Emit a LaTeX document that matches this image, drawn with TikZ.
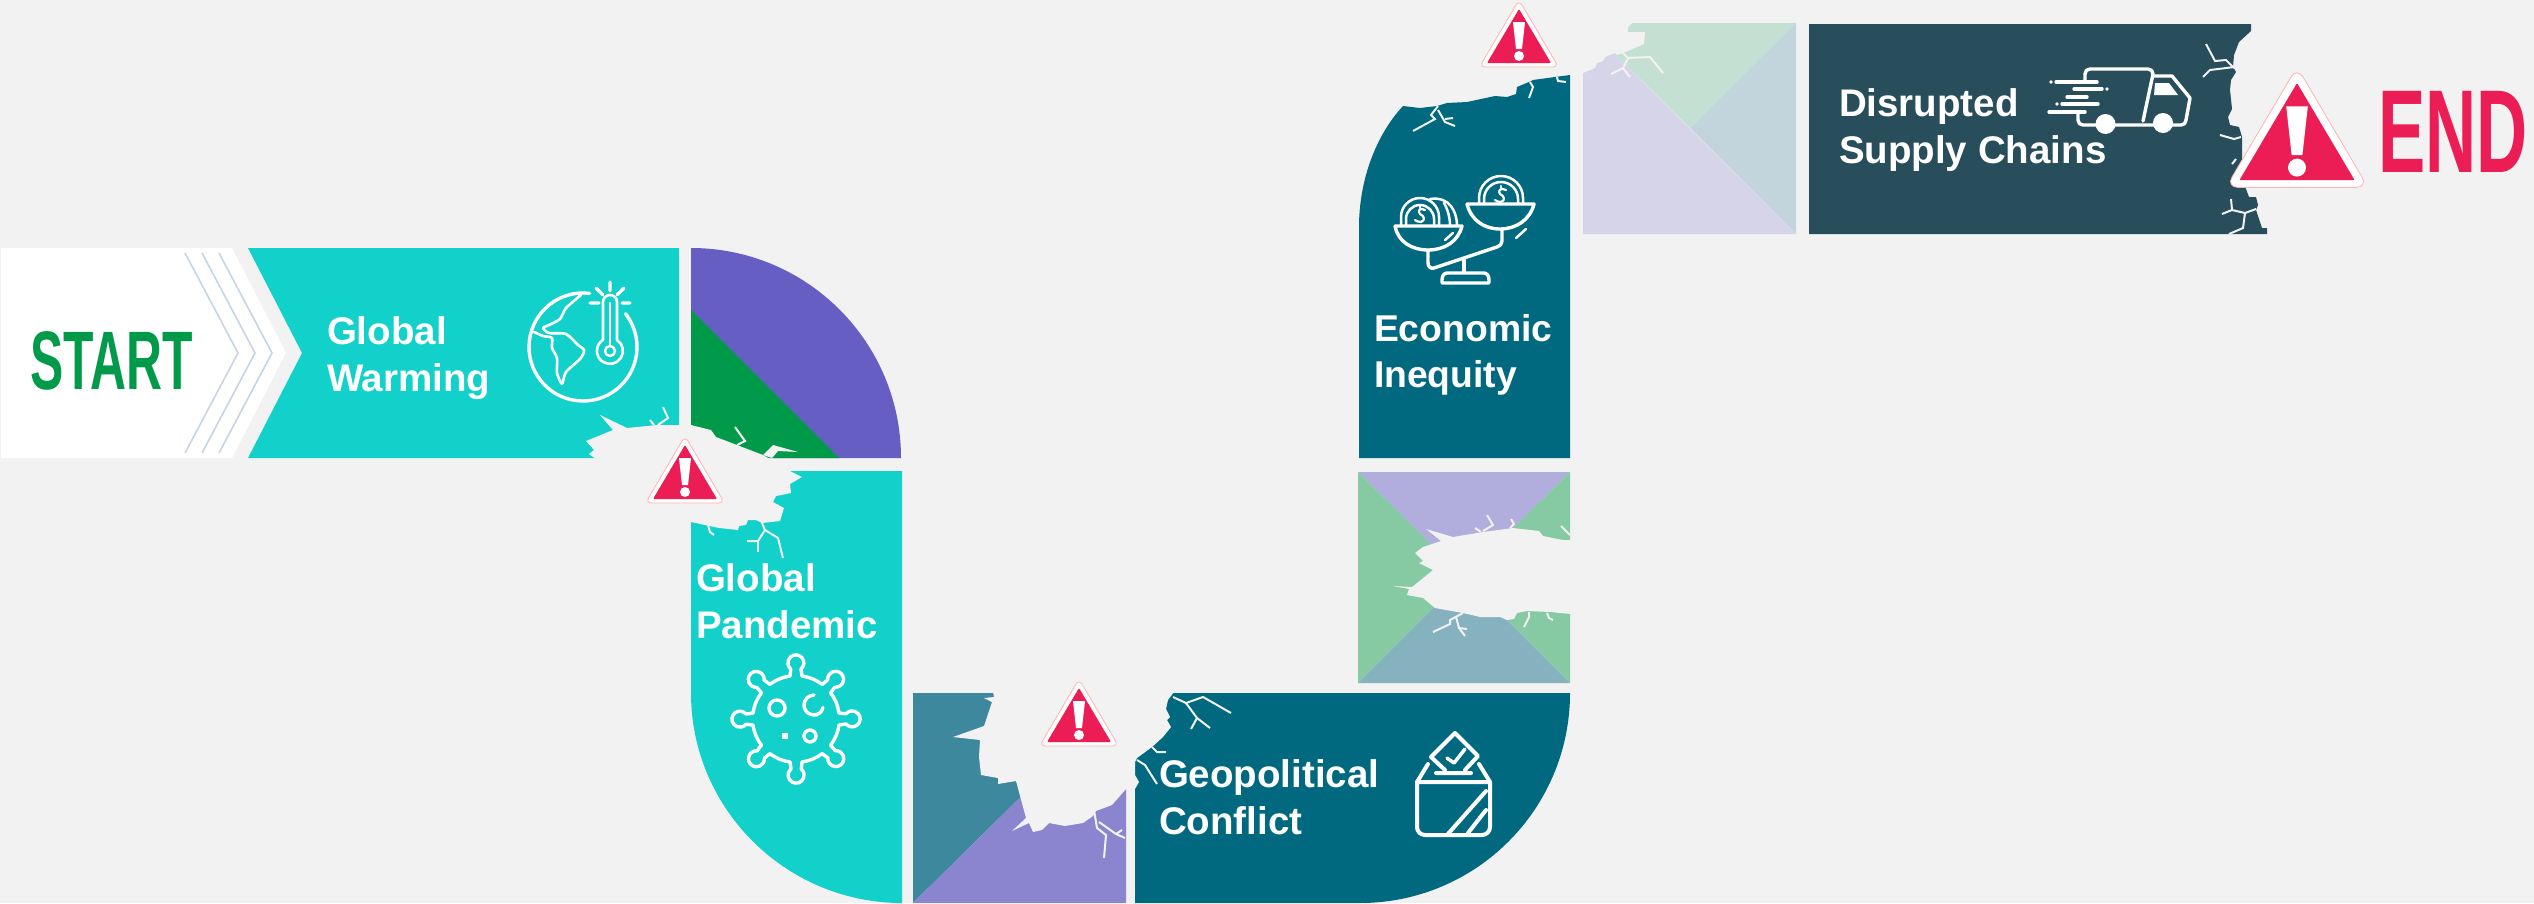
\documentclass[tikz,border=0pt]{standalone}
\usepackage{fontspec}
\setmainfont{Liberation Sans}
\newfontfamily\condfont[FakeStretch=0.6,UprightFont={* Bold}]{Liberation Sans}
\definecolor{bgc}{HTML}{F2F2F2}
\definecolor{tealA}{HTML}{12D0CA}
\definecolor{purA}{HTML}{675EC4}
\definecolor{grnA}{HTML}{009A4A}
\definecolor{tealB}{HTML}{006980}
\definecolor{tealC}{HTML}{3E889E}
\definecolor{purB}{HTML}{8B84CF}
\definecolor{lilC}{HTML}{B1ADDC}
\definecolor{grnC}{HTML}{86CAA3}
\definecolor{bluC}{HTML}{86B1BF}
\definecolor{grnD}{HTML}{C4E0D2}
\definecolor{bluD}{HTML}{C3D5DC}
\definecolor{lilD}{HTML}{D6D4E9}
\definecolor{navy}{HTML}{284D5B}
\definecolor{redA}{HTML}{EC1C54}
\definecolor{chev}{HTML}{C8D4E0}
\tikzset{
  lbl/.style={anchor=base west,inner sep=0pt,outer sep=0pt,text=white,align=left,font=\bfseries\fontsize{38.5}{46.5}\selectfont},
  hole/.style={fill=bgc,draw=none},
  crk/.style={draw=bgc,line width=2pt,line join=miter,line cap=butt},
  ico/.style={draw=white,line width=3.4pt,line cap=round,line join=round},
}
\newcommand{\warnsign}[4]{%
  \begin{scope}[shift={(#1,#2)},scale=#3]
    \fill[white,draw=red!30!white,line width=.8pt,rounded corners=#4] (0,-4)--(39.5,63)--(-39.5,63)--cycle;
    \fill[redA,rounded corners=1pt] (0,5)--(32,59)--(-32,59)--cycle;
    \fill[white] (-6,18)--(6,18)--(3,45)--(-3,45)--cycle;
    \fill[white] (0,52) circle[radius=5];
  \end{scope}}
\begin{document}
\begin{tikzpicture}[x=1pt,y=1pt,yscale=-1]
\useasboundingbox (0,0) rectangle (2534,903);
\fill[bgc] (0,0) rectangle (2534,903);
% start chevron
\fill[white] (1,248)--(232,248)--(286,353)--(232,458)--(1,458)--cycle;
\foreach \dx in {0,17,34}
  \draw[chev,line width=1.6pt] (185+\dx,253)--(238+\dx,353)--(185+\dx,453);
\node[anchor=base west,inner sep=0pt,text=grnA,font=\condfont\fontsize{83}{83}\selectfont] (startlbl) at (30,389) {START};
% panel 1
\fill[tealA] (248,248)--(679,248)--(679,458)--(248,458)--(302,353)--cycle;
\fill[purA] (691,248) .. controls (807,248) and (901,342) .. (901,458) -- (691,458) -- cycle;
\fill[grnA] (691,310)--(839,458)--(691,458)--cycle;
% panel 2
\fill[tealA] (691,471)--(902,471)--(902,903) .. controls (786,903) and (691,809) .. (691,693) -- cycle;
% hole 1
\fill[hole] (596,459)--(589,454)--(594,450)--(586,441)--(613,430)--(600,415)--(627,428)--(657,425)--(691,425)--(711,430)--(716,437)--(737,445)--(763,455)--(770,459)--(790,471)--(802,477)--(790,484)--(791,493)--(776,496)--(773,502)--(784,508)--(780,521)--(762,523)--(756,520)--(748,520)--(746,525)--(739,526)--(738,530)--(719,528)--(691,522)--(685,522)--(685,459)--cycle;
\draw[crk] (658,425)--(668,418)--(663,407);
\draw[crk] (654,425)--(650,420);
\draw[crk] (737,445)--(745,441)--(735,427);
\fill[hole] (763,455)--(773,445)--(798,452)--(778,451)--(772,458)--cycle;
\draw[crk] (762,523)--(765,530)--(778,538)--(783,558);
\draw[crk] (765,530)--(758,541)--(747,541);
\draw[crk] (758,541)--(758,552);
\draw[crk] (708,525)--(710,532)--(714,535);
% panel 3
\fill[tealC] (913,693)--(1126,693)--(913,903)--cycle;
\fill[purB] (1126,693)--(1126,903)--(913,903)--cycle;
% panel 4
\fill[tealB] (1135,693)--(1570,693) .. controls (1570,809) and (1476,903) .. (1360,903) -- (1135,903) -- cycle;
% hole 3
\fill[hole] (993,692)--(994,697)--(984,698)--(992,702)--(984,726)--(953,737)--(980,740)--(979,757)--(981,775)--(998,778)--(998,784)--(1016,781)--(1026,818)--(1012,831)--(1029,823)--(1033,832)--(1042,830)--(1049,823)--(1065,826)--(1083,823)--(1093,816)--(1096,811)--(1112,805)--(1126,789)--(1135,789)--(1139,782)--(1135,775)--(1135,762)--(1137,758)--(1152,747)--(1163,737)--(1171,727)--(1167,720)--(1170,717)--(1166,709)--(1168,700)--(1174,692)--cycle;
\draw[crk] (1173,697)--(1186,703)--(1203,697)--(1231,713);
\draw[crk] (1186,703)--(1197,718)--(1210,728);
\draw[crk] (1197,718)--(1191,729);
\draw[crk] (1152,747)--(1157,752)--(1166,752);
\draw[crk] (1137,760)--(1145,765)--(1157,784);
\draw[crk] (1094,810)--(1097,828)--(1106,835)--(1104,858);
\draw[crk] (1099,822)--(1116,834)--(1125,838);
\draw[crk] (1116,834)--(1122,830);
% panel 5
\fill[lilC] (1358,472)--(1570,472)--(1464,577)--cycle;
\fill[grnC] (1358,472)--(1464,577)--(1358,683)--cycle;
\fill[grnC] (1570,472)--(1570,683)--(1464,577)--cycle;
\fill[bluC] (1358,683)--(1464,577)--(1570,683)--cycle;
\fill[hole] (1571,540)--(1563,540)--(1543,536)--(1539,531)--(1513,528)--(1483,532)--(1453,537)--(1426,529)--(1441,541)--(1423,547)--(1415,553)--(1423,561)--(1419,563)--(1433,570)--(1412,587)--(1393,586)--(1409,589)--(1407,595)--(1423,598)--(1435,608)--(1463,613)--(1480,617)--(1500,617)--(1507,620)--(1514,619)--(1517,613)--(1527,611)--(1550,612)--(1571,614)--cycle;
\draw[crk] (1483,531)--(1493,525)--(1487,515);
\draw[crk] (1475,528)--(1481,532);
\draw[crk] (1510,528)--(1514,524)--(1511,519);
\draw[crk] (1561,526)--(1570,535);
\draw[crk] (1463,613)--(1450,620)--(1450,624)--(1433,632);
\draw[crk] (1456,617)--(1459,628)--(1465,636);
\draw[crk] (1459,628)--(1467,629);
\draw[crk] (1529,612)--(1529,617)--(1524,627);
\draw[crk] (1547,613)--(1549,618)--(1553,620);
% panel 6
\fill[tealB] (1359,458)--(1359,227) .. controls (1359,180) and (1376,135) .. (1403,106) --(1420,108)--(1437,106)--(1447,103)--(1467,102)--(1495,96)--(1507,97)--(1516,94)--(1517,87)--(1529,82)--(1533,80)--(1555,77)--(1570,75)--(1570,458)--cycle;
\draw[crk] (1438,106)--(1431,115)--(1435,119)--(1413,131);
\draw[crk] (1438,110)--(1445,122)--(1455,126);
\draw[crk] (1445,119)--(1453,118);
\draw[crk] (1530,82)--(1533,87)--(1529,98);
\draw[crk] (1557,77)--(1558,81)--(1566,82);
% panel 7
\fill[grnD] (1583,23)--(1796,23)--(1690,128)--cycle;
\fill[bluD] (1796,23)--(1796,234)--(1690,128)--cycle;
\fill[lilD] (1583,23)--(1796,234)--(1583,234)--cycle;
\fill[hole] (1582,22)--(1633,22)--(1628,27)--(1628,32)--(1645,32)--(1644,44)--(1623,53)--(1617,55)--(1615,53)--(1605,57)--(1603,61)--(1597,63)--(1595,68)--(1583,73)--(1582,73)--cycle;
\draw[crk] (1623,53)--(1628,58)--(1650,57)--(1663,73);
\draw[crk] (1628,58)--(1623,68)--(1611,74);
\draw[crk] (1623,68)--(1630,77);
% panel 8
\fill[navy] (1809,24)--(2251,24)--(2251,31)--(2239,42)--(2234,55)--(2233,67)--(2236,72)--(2231,80)--(2230,90)--(2232,109)--(2228,117)--(2230,125)--(2239,127)--(2242,137)--(2242,160)--(2242,180)--(2246,189)--(2249,197)--(2256,197)--(2258,205)--(2256,210)--(2262,228)--(2267,228)--(2267,234)--(1809,234)--cycle;
\draw[crk] (2206,44)--(2215,61)--(2226,60)--(2234,68);
\draw[crk] (2234,67)--(2210,70)--(2203,77);
\draw[crk] (2220,135)--(2234,139)--(2241,137);
\draw[crk] (2232,164)--(2236,159);
\draw[crk] (2256,209)--(2245,213)--(2232,210)--(2231,199);
\draw[crk] (2232,210)--(2222,214);
\draw[crk] (2245,213)--(2243,228)--(2229,234);
% labels
\node[lbl] (warming) at (327,391) {Global\\Warming};
\node[lbl] (pandemic) at (696,638) {Global\\Pandemic};
\node[lbl] (conflict) at (1159,834) {Geopolitical\\Conflict};
\node[lbl,font=\bfseries\fontsize{37.3}{46}\selectfont] (inequity) at (1374,387) {Economic\\Inequity};
\node[lbl] (chains) at (1839,163) {Disrupted\\Supply Chains};
\node[anchor=base west,inner sep=0pt,text=redA,font=\condfont\fontsize{118}{118}\selectfont] (endlbl) at (2378,172) {END};
% globe icon
\draw[ico] (583,347) ++(-83:54) arc[start angle=-83,end angle=-398,radius=54];
\draw[ico,line width=2.6pt] plot[smooth,tension=.4] coordinates {(581,295)(566,308)(560,319)(549,325)(543,328)(549,333)(566,334)(578,345)(584,350)(581,358)(566,372)(562,384)(557,373)(557,358)(552,348)(552,338)(543,336)(534,332)};
\draw[ico,line width=2.6pt] (603,340)--(603,302) arc[start angle=180,end angle=360,radius=7] --(617,340) arc[start angle=-57,end angle=237,radius=13];
\draw[ico,line width=2.4pt] (610,303)--(610,345);
\draw[ico,line width=2.4pt] (610,351) circle[radius=5];
\draw[ico] (610,282)--(610,291) (596,288)--(603,295) (624,288)--(617,295) (590,303)--(599,303) (622,303)--(630,303);
% virus icon
\foreach \a in {0,45,...,315}{
  \begin{scope}[shift={(796,719)},rotate=\a]
    \draw[ico] (43,6)--(50,5) arc[start angle=140,end angle=-140,radius=8] --(43,-6);
    \draw[ico] (43,6) arc[start angle=8,end angle=37,radius=43.4];
  \end{scope}}
\draw[ico] (777,708) circle[radius=8];
\draw[ico] (810,736) circle[radius=6];
\draw[ico] (814,695) arc[start angle=-90,end angle=-290,radius=10];
\draw[ico] (814,715) arc[start angle=90,end angle=10,radius=9];
\fill[white] (782,733) rectangle (788,739);
% ballot icon
\draw[ico,line width=4pt] (1417,782)--(1490,782)--(1490,827) arc[start angle=0,end angle=90,radius=8] --(1425,835) arc[start angle=90,end angle=180,radius=8] --cycle;
\draw[ico,line width=4pt] (1428,764)--(1417,782) (1479,764)--(1490,782) (1436,773)--(1471,773);
\draw[ico,line width=4pt] (1445,770)--(1431,757)--(1455,733)--(1478,756)--(1465,770);
\draw[ico,line width=3.5pt] (1447,758)--(1454,763)--(1465,749);
\draw[ico,line width=4pt] (1486,791)--(1447,835) (1486,810)--(1468,833);
% scale icon
\draw[ico] (1395,226)--(1462,226) .. controls (1458,242) and (1444,250) .. (1428,250) .. controls (1412,250) and (1398,242) .. (1395,226);
\draw[ico] (1467,204)--(1534,204) .. controls (1530,220) and (1516,229) .. (1500,229) .. controls (1484,229) and (1471,220) .. (1467,204);
\draw[ico] (1428,250)--(1428,263) .. controls (1428,267) and (1431,269) .. (1434,268) -- (1497,247) .. controls (1500,246) and (1502,244) .. (1502,241) -- (1502,229);
\draw[ico] (1464,260)--(1464,272);
\draw[ico] (1442,283)--(1489,283)--(1489,280) .. controls (1489,276) and (1487,273) .. (1484,273) -- (1447,273) .. controls (1444,273) and (1442,276) .. (1442,280) -- cycle;
\draw[ico,line width=2.5pt] (1401,226)--(1401,217) arc[start angle=180,end angle=360,radius=19] --(1439,226);
\draw[ico,line width=2.5pt] (1406,226)--(1406,219) arc[start angle=180,end angle=360,radius=14] --(1434,226);
\draw[ico,line width=2.5pt] (1430,199) .. controls (1450,196) and (1457,212) .. (1457,226);
\draw[ico,line width=2.5pt] (1444,203) .. controls (1448,210) and (1450,218) .. (1450,226);
\draw[ico,line width=2.2pt] (1425,210) .. controls (1420,207) and (1417,211) .. (1420,214) .. controls (1424,216) and (1426,220) .. (1421,222) .. controls (1418,222) and (1416,221) .. (1415,220);
\draw[ico,line width=2.2pt] (1420,206)--(1420,208);
\draw[ico,line width=2.5pt] (1479,204)--(1479,198) arc[start angle=180,end angle=360,radius=22] --(1523,204);
\draw[ico,line width=2.5pt] (1484,204)--(1484,199) arc[start angle=180,end angle=360,radius=17] --(1518,204);
\draw[ico,line width=2.2pt] (1506,190) .. controls (1501,187) and (1497,191) .. (1500,194) .. controls (1504,196) and (1506,200) .. (1501,202) .. controls (1498,202) and (1496,201) .. (1495,200);
\draw[ico,line width=2.2pt] (1501,186)--(1501,188);
\draw[ico,line width=2.5pt] (1516,238)--(1526,229);
\draw[ico,line width=2.5pt] (1445,240)--(1453,233);
% truck icon
\draw[ico] (2085,80)--(2085,74) .. controls (2085,71) and (2087,69) .. (2090,69) -- (2148,69) .. controls (2151,69) and (2153,71) .. (2153,74) -- (2143,121);
\draw[ico] (2078,113)--(2078,120) .. controls (2078,123) and (2080,125) .. (2083,125) -- (2181,125) .. controls (2184,125) and (2186,123) .. (2186,120) -- (2190,98) -- (2172,76) -- (2154,76);
\fill[white] (2105.5,124) circle[radius=10];
\fill[white] (2163,123) circle[radius=10];
\fill[white] (2155,83)--(2169,83)--(2178,95)--(2154,95)--cycle;
\draw[ico] (2056,82)--(2097,82) (2074,89)--(2102,89) (2067,97)--(2087,97) (2062,104)--(2098,104) (2049,112)--(2085,112);
\fill[white] (2051,82) circle[radius=1.8] (2107,89) circle[radius=1.8] (2057,104) circle[radius=1.8];
% warning signs
\warnsign{685}{440}{1}{6pt}
\warnsign{1079}{683}{1}{6pt}
\warnsign{1519}{4}{1}{6pt}
\warnsign{2297}{74}{1.8}{12pt}
\end{tikzpicture}
\end{document}
